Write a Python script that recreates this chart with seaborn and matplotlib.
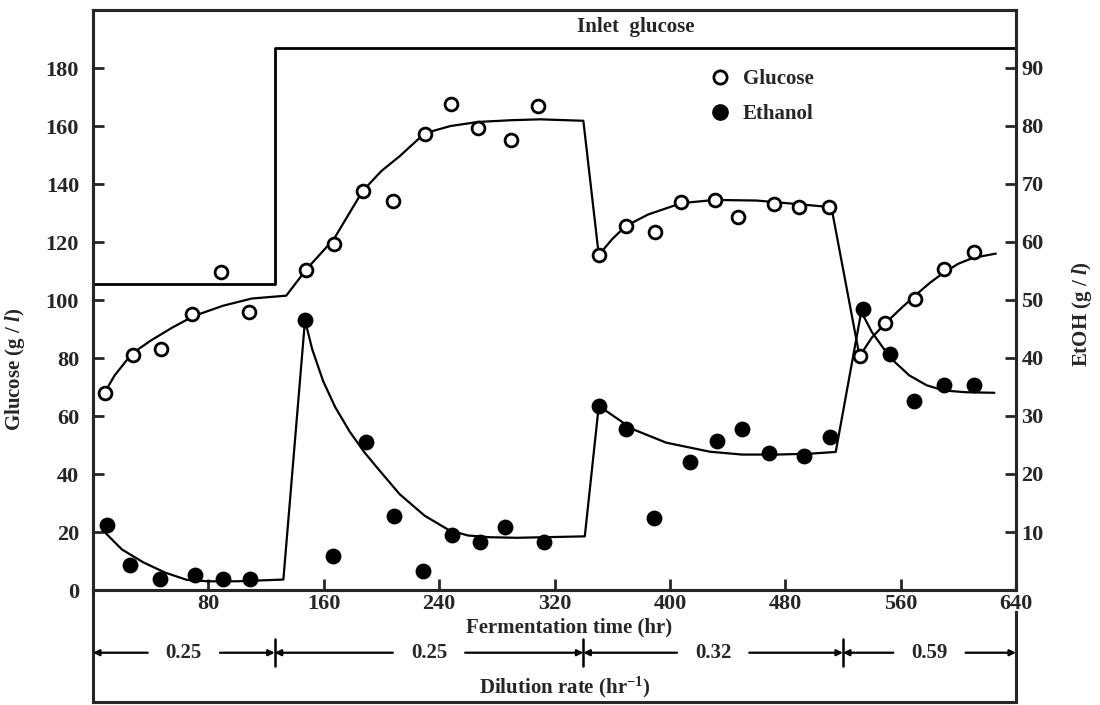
import numpy as np
import pandas as pd
import seaborn as sns
import matplotlib.pyplot as plt
from matplotlib.lines import Line2D

# measured points (time in hr)
glc_t = [8, 27.5, 47, 68.4, 88.7, 108, 148, 166.8, 187, 208, 230, 248, 267, 289.7, 308.6,
         350.7, 369.4, 390, 408, 431, 447, 472, 489.5, 510, 531.5, 549.5, 570, 590.4, 610.7]
glc_v = [68, 81, 83.2, 95.3, 109.6, 95.8, 110.5, 119.3, 137.6, 134, 157.3, 167.6, 159.4, 155.3, 167,
         115.5, 125.5, 123.4, 133.8, 134.6, 128.7, 133.2, 132.2, 132, 80.6, 92, 100.5, 110.8, 116.7]

etoh_t = [9.5, 26, 46.4, 70.7, 89.9, 108.8, 147, 166.6, 189, 209, 229, 249, 268, 286, 312.5,
          350.7, 369.4, 388.8, 413.7, 432.6, 450, 468.7, 493, 510.7, 533.8, 552.3, 569, 590.4, 610.7]
etoh_v = [11.2, 4.35, 1.9, 2.6, 1.9, 1.9, 46.6, 5.9, 25.6, 12.75, 3.25, 9.4, 8.35, 10.8, 8.2,
          31.75, 27.75, 12.5, 22, 25.7, 27.75, 23.65, 23.05, 26.3, 48.5, 40.7, 32.5, 35.4, 35.3]

# hand drawn fit curves
glc_fit_t = [8, 15, 27, 40, 55, 70, 90, 110, 134, 148, 167, 187, 200, 212.7, 230, 248, 267, 290, 310, 340,
             350.7, 360, 369.4, 385, 408, 431, 460, 490, 512,
             531.5, 540, 549.5, 560, 570, 580, 590, 600, 610, 626]
glc_fit_v = [68, 74, 81.5, 86, 90.5, 94.5, 98, 100.5, 101.5, 110.6, 121, 137.6, 144.5, 149.6, 157.5, 160, 161.4, 162, 162.3, 161.8,
             115.5, 121, 125.5, 129.5, 133.4, 134.5, 134.3, 133, 132,
             80.6, 87, 92, 97, 101.5, 105.8, 109.5, 112.5, 114.5, 116]

etoh_fit_t = [8, 20, 35, 50, 65, 80, 100, 132,
              147, 152, 159.6, 168, 178, 188, 198, 212.7, 230, 247, 260, 275, 293.6, 341,
              350.7, 374, 397.5, 427.6, 450, 473.8, 497, 515,
              532.7, 540, 548, 556, 566, 578, 590, 605, 625]
etoh_fit_v = [10, 7, 4.75, 3, 1.75, 1.5, 1.5, 1.8,
              46.5, 41.5, 36, 31.5, 27.3, 23.8, 20.8, 16.5, 12.8, 10.3, 9.4, 9.1, 9, 9.25,
              31.75, 27.75, 25.4, 23.85, 23.35, 23.35, 23.5, 23.8,
              48, 44.5, 41.7, 39.3, 37, 35.3, 34.4, 34.1, 34]

# inlet glucose feed profile
inlet_t = [0, 126, 126, 640]
inlet_v = [105.5, 105.5, 187, 187]

# dilution rate periods
dil_edges = [0, 126, 340, 520, 640]
dil_label_t = [63, 233, 430, 580]
dil_labels = ['0.25', '0.25', '0.32', '0.59']

sns.set_style('ticks')
plt.rcParams['font.family'] = ['Liberation Serif', 'DejaVu Serif']
plt.rcParams['font.weight'] = 'bold'
plt.rcParams['mathtext.fontset'] = 'custom'
plt.rcParams['mathtext.rm'] = 'Liberation Serif:bold'
plt.rcParams['mathtext.it'] = 'Liberation Serif:italic:bold'
plt.rcParams['mathtext.bf'] = 'Liberation Serif:bold'

fs = 15
W, H = 1100, 705
fig = plt.figure(figsize=(11, 7.05), dpi=100)
x0, x1, y0, ytop, ybot = 93, 1016, 590, 10, 702
ax = fig.add_axes([x0 / W, 1 - y0 / H, (x1 - x0) / W, (y0 - ytop) / H])
ax2 = ax.twinx()

sns.lineplot(x=inlet_t, y=inlet_v, ax=ax, color='k', lw=2, sort=False, estimator=None)
sns.lineplot(x=glc_fit_t, y=glc_fit_v, ax=ax, color='k', lw=1.6, sort=False, estimator=None)
sns.scatterplot(x=glc_t, y=glc_v, ax=ax, marker='o', s=85, color='white', edgecolor='k',
                linewidth=2, zorder=4)
sns.lineplot(x=etoh_fit_t, y=etoh_fit_v, ax=ax2, color='k', lw=1.6, sort=False, estimator=None)
sns.scatterplot(x=etoh_t, y=etoh_v, ax=ax2, marker='o', s=130, color='k', edgecolor='k',
                linewidth=0, zorder=4)

ax.set_xlim(0, 640)
ax.set_ylim(0, 200)
ax2.set_ylim(0, 100)
ax.set_xticks(range(80, 641, 80))
ax.set_yticks(range(0, 181, 20))
ax2.set_yticks(range(10, 91, 10))
for a in (ax, ax2):
    a.tick_params(direction='in', length=8, width=2, labelsize=fs + 1, pad=3)
    for sp in a.spines.values():
        sp.set_linewidth(2.2)
        sp.set_visible(True)
    a.set_xlabel('')
ax.tick_params(axis='y', pad=10)
ax2.tick_params(axis='y', pad=4)

ax.set_ylabel('Glucose (g / $l$)', fontsize=fs, fontweight='bold')
ax.yaxis.set_label_coords(-0.071, 0.38)
ax2.set_ylabel('EtOH (g / $l$)', fontsize=fs, fontweight='bold')
ax2.yaxis.set_label_coords(1.059, 0.476)

ax.text(376, 194, 'Inlet  glucose', ha='center', va='center', fontsize=fs, fontweight='bold')

handles = [Line2D([], [], marker='o', ls='', mfc='white', mec='k', mew=2, ms=9.5),
           Line2D([], [], marker='o', ls='', mfc='k', mec='k', ms=11)]
ax.legend(handles, ['Glucose', 'Ethanol'], loc='upper left', bbox_to_anchor=(0.661, 0.913),
          frameon=False, handlelength=0.8, handletextpad=0.7, labelspacing=0.75,
          borderaxespad=0, prop={'size': fs, 'weight': 'bold'})

# lower box with dilution rate periods
axl = fig.add_axes([x0 / W, 1 - ybot / H, (x1 - x0) / W, (ybot - y0) / H])
axl.set_xlim(0, 640)
axl.set_ylim(0, 1)
axl.patch.set_alpha(0)
axl.set_xticks([])
axl.set_yticks([])
axl.spines['top'].set_visible(False)
for sp in axl.spines.values():
    sp.set_linewidth(2.2)
axl.spines['right'].set_bounds(0, 0.80)

axl.text(330, 0.665, 'Fermentation time (hr)', ha='center', va='center', fontsize=fs, fontweight='bold')
axl.text(327, 0.13, 'Dilution rate (hr$^{-1}$)', ha='center', va='center', fontsize=fs, fontweight='bold')

ya = 0.44
for i, lab in enumerate(dil_labels):
    a, b, c = dil_edges[i], dil_edges[i + 1], dil_label_t[i]
    for end in (a, b):
        axl.annotate('', xy=(end, ya), xytext=(c, ya),
                     arrowprops=dict(arrowstyle='-|>', lw=1.6, color='k', shrinkA=26, shrinkB=0,
                                     mutation_scale=9))
    axl.text(c, ya, lab, ha='center', va='center', fontsize=fs, fontweight='bold')
for e in dil_edges[1:-1]:
    axl.plot([e, e], [ya - 0.12, ya + 0.12], color='k', lw=1.8)

fig.savefig('out.png', dpi=100)
